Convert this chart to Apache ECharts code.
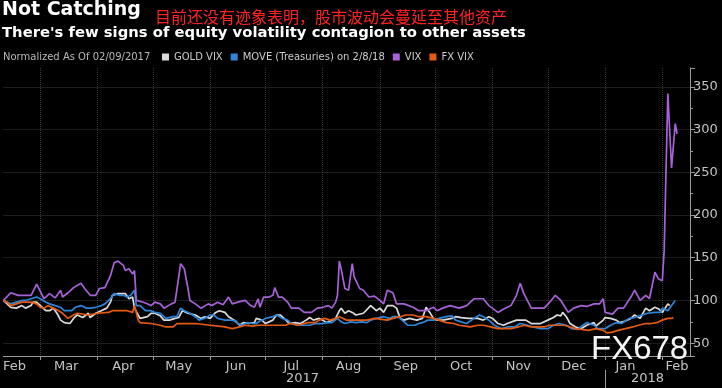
<!DOCTYPE html>
<html><head><meta charset="utf-8">
<script src="https://cdn.jsdelivr.net/npm/echarts@6/dist/echarts.min.js"></script>
<style>html,body{margin:0;padding:0;background:#000;}#c{width:722px;height:388px;}</style>
</head><body><div id="c"></div>
<script>
const axisStart = '2017-02-09';
const axisEnd = '2018-02-16';
const monthLabelDates = ['2017-02-15','2017-03-15','2017-04-15','2017-05-15','2017-06-15','2017-07-15','2017-08-15','2017-09-15','2017-10-15','2017-11-15','2017-12-15','2018-01-12','2018-02-09'];
const yearLabelDates = ['2017-07-21','2018-01-24'];
const monthNames = ['Jan','Feb','Mar','Apr','May','Jun','Jul','Aug','Sep','Oct','Nov','Dec'];

const vixDates = ['2017-02-09','2017-02-13','2017-02-17','2017-02-24','2017-02-27','2017-03-03','2017-03-06','2017-03-09','2017-03-12','2017-03-13','2017-03-16','2017-03-19','2017-03-23','2017-03-25','2017-03-28','2017-03-31','2017-04-02','2017-04-05','2017-04-08','2017-04-10','2017-04-12','2017-04-15','2017-04-16','2017-04-18','2017-04-20','2017-04-21','2017-04-22','2017-04-24','2017-04-27','2017-04-30','2017-05-02','2017-05-05','2017-05-07','2017-05-11','2017-05-13','2017-05-16','2017-05-18','2017-05-20','2017-05-21','2017-05-24','2017-05-27','2017-05-31','2017-06-02','2017-06-05','2017-06-08','2017-06-11','2017-06-13','2017-06-16','2017-06-20','2017-06-23','2017-06-25','2017-06-27','2017-06-28','2017-06-30','2017-07-03','2017-07-05','2017-07-06','2017-07-08','2017-07-10','2017-07-13','2017-07-15','2017-07-19','2017-07-22','2017-07-26','2017-07-29','2017-08-01','2017-08-04','2017-08-06','2017-08-08','2017-08-09','2017-08-10','2017-08-11','2017-08-13','2017-08-15','2017-08-16','2017-08-17','2017-08-18','2017-08-21','2017-08-23','2017-08-26','2017-08-29','2017-09-01','2017-09-03','2017-09-05','2017-09-08','2017-09-10','2017-09-14','2017-09-19','2017-09-22','2017-09-26','2017-09-30','2017-10-02','2017-10-05','2017-10-09','2017-10-14','2017-10-18','2017-10-22','2017-10-27','2017-10-30','2017-11-04','2017-11-07','2017-11-11','2017-11-14','2017-11-16','2017-11-18','2017-11-22','2017-11-29','2017-12-02','2017-12-05','2017-12-08','2017-12-12','2017-12-15','2017-12-19','2017-12-22','2017-12-26','2017-12-29','2017-12-31','2018-01-01','2018-01-05','2018-01-08','2018-01-11','2018-01-15','2018-01-17','2018-01-20','2018-01-23','2018-01-25','2018-01-26','2018-01-28','2018-01-30','2018-02-01','2018-02-02','2018-02-04','2018-02-06','2018-02-08','2018-02-09'];
const vixVals = [100,109,106,106,119,102,108,103,112,104,109,115,120,114,106,106,114,115,129,144,146,141,135,137,131,135,100,99,97,94,98,96,91,96,98,143,137,114,100,96,91,96,94,98,95,104,96,98,100,94,92,102,92,104,104,106,115,104,104,98,91,91,86,86,91,92,94,91,98,106,146,137,114,112,112,143,128,114,112,104,105,100,96,112,109,96,96,92,88,88,92,88,91,94,91,94,102,102,94,86,90,94,106,120,108,91,91,98,106,100,86,91,94,93,96,96,102,86,84,91,91,104,112,100,106,102,104,133,125,123,158,342,255,307,295];

const goldDates = ['2017-02-09','2017-02-11','2017-02-13','2017-02-16','2017-02-19','2017-02-21','2017-02-24','2017-02-25','2017-02-27','2017-03-01','2017-03-04','2017-03-06','2017-03-08','2017-03-10','2017-03-12','2017-03-14','2017-03-17','2017-03-19','2017-03-21','2017-03-24','2017-03-27','2017-03-28','2017-03-31','2017-04-03','2017-04-06','2017-04-08','2017-04-09','2017-04-12','2017-04-16','2017-04-18','2017-04-20','2017-04-21','2017-04-23','2017-04-24','2017-04-28','2017-04-30','2017-05-02','2017-05-05','2017-05-07','2017-05-10','2017-05-13','2017-05-15','2017-05-17','2017-05-20','2017-05-24','2017-05-27','2017-05-29','2017-06-01','2017-06-04','2017-06-06','2017-06-09','2017-06-11','2017-06-14','2017-06-17','2017-06-19','2017-06-22','2017-06-25','2017-06-26','2017-06-29','2017-07-01','2017-07-05','2017-07-07','2017-07-09','2017-07-12','2017-07-14','2017-07-17','2017-07-20','2017-07-23','2017-07-25','2017-07-27','2017-07-30','2017-08-01','2017-08-03','2017-08-06','2017-08-08','2017-08-10','2017-08-11','2017-08-13','2017-08-15','2017-08-17','2017-08-19','2017-08-23','2017-08-27','2017-08-30','2017-09-01','2017-09-03','2017-09-05','2017-09-06','2017-09-08','2017-09-10','2017-09-12','2017-09-14','2017-09-17','2017-09-21','2017-09-24','2017-09-26','2017-09-28','2017-09-30','2017-10-02','2017-10-05','2017-10-10','2017-10-12','2017-10-15','2017-10-19','2017-10-20','2017-10-24','2017-10-27','2017-10-30','2017-11-01','2017-11-04','2017-11-07','2017-11-09','2017-11-14','2017-11-16','2017-11-19','2017-11-22','2017-11-27','2017-12-01','2017-12-04','2017-12-05','2017-12-06','2017-12-08','2017-12-09','2017-12-11','2017-12-13','2017-12-16','2017-12-19','2017-12-22','2017-12-26','2017-12-27','2017-12-31','2018-01-01','2018-01-04','2018-01-07','2018-01-09','2018-01-12','2018-01-15','2018-01-17','2018-01-20','2018-01-23','2018-01-25','2018-01-28','2018-01-30','2018-02-01','2018-02-04','2018-02-05'];
const goldVals = [100,96,92,91,94,91,94,98,98,94,88,88,91,85,77,74,73,79,83,80,85,80,85,88,91,98,106,108,108,102,104,91,83,79,81,85,85,82,77,77,79,80,88,85,83,79,81,79,86,88,86,81,77,71,74,73,74,79,77,73,77,83,83,77,73,74,73,77,80,77,79,77,74,77,79,88,91,85,88,86,83,85,94,88,91,86,94,96,94,91,79,77,79,77,79,92,86,79,77,77,79,81,80,79,81,79,77,81,79,73,71,73,77,77,77,73,73,77,80,79,83,82,86,81,73,69,67,71,74,70,77,80,79,77,74,76,79,83,79,91,88,92,90,86,96,94];

const moveDates = ['2017-02-09','2017-02-13','2017-02-16','2017-02-19','2017-02-21','2017-02-24','2017-02-27','2017-03-01','2017-03-04','2017-03-06','2017-03-09','2017-03-12','2017-03-14','2017-03-18','2017-03-20','2017-03-23','2017-03-26','2017-03-28','2017-03-31','2017-04-03','2017-04-05','2017-04-08','2017-04-10','2017-04-13','2017-04-15','2017-04-17','2017-04-19','2017-04-21','2017-04-22','2017-04-24','2017-04-27','2017-04-30','2017-05-02','2017-05-05','2017-05-08','2017-05-12','2017-05-14','2017-05-16','2017-05-18','2017-05-21','2017-05-24','2017-05-26','2017-05-29','2017-06-01','2017-06-03','2017-06-05','2017-06-09','2017-06-12','2017-06-15','2017-06-16','2017-06-18','2017-06-21','2017-06-24','2017-06-26','2017-06-28','2017-07-01','2017-07-05','2017-07-07','2017-07-10','2017-07-13','2017-07-15','2017-07-18','2017-07-21','2017-07-22','2017-07-25','2017-07-28','2017-08-01','2017-08-03','2017-08-06','2017-08-09','2017-08-11','2017-08-13','2017-08-16','2017-08-19','2017-08-22','2017-08-25','2017-08-27','2017-08-30','2017-09-03','2017-09-06','2017-09-08','2017-09-11','2017-09-13','2017-09-16','2017-09-20','2017-09-22','2017-09-24','2017-09-27','2017-09-30','2017-10-03','2017-10-07','2017-10-10','2017-10-12','2017-10-15','2017-10-18','2017-10-22','2017-10-25','2017-10-27','2017-10-30','2017-11-02','2017-11-06','2017-11-09','2017-11-13','2017-11-16','2017-11-20','2017-11-23','2017-11-27','2017-12-01','2017-12-04','2017-12-07','2017-12-11','2017-12-14','2017-12-17','2017-12-20','2017-12-22','2017-12-26','2017-12-28','2018-01-01','2018-01-04','2018-01-07','2018-01-10','2018-01-14','2018-01-17','2018-01-21','2018-01-24','2018-01-28','2018-01-31','2018-02-01','2018-02-04','2018-02-06','2018-02-08'];
const moveVals = [100,96,98,100,100,102,104,102,98,96,94,92,88,88,92,94,91,91,92,94,96,102,108,106,106,104,106,112,94,94,88,88,86,85,79,81,81,91,88,85,81,77,79,83,83,79,77,77,76,73,71,74,73,73,76,79,81,83,79,77,73,71,71,73,71,73,73,74,74,79,75,73,75,74,75,74,77,79,81,79,81,81,77,71,71,73,74,77,77,79,81,82,77,75,73,79,83,81,77,71,67,69,69,73,71,69,67,67,71,73,71,67,66,71,74,71,67,67,71,74,73,79,80,83,85,86,86,91,88,94,100];

const fxDates = ['2017-02-09','2017-02-11','2017-02-13','2017-02-16','2017-02-19','2017-02-24','2017-02-27','2017-03-01','2017-03-03','2017-03-05','2017-03-08','2017-03-11','2017-03-13','2017-03-16','2017-03-19','2017-03-21','2017-03-27','2017-04-01','2017-04-07','2017-04-09','2017-04-17','2017-04-20','2017-04-21','2017-04-23','2017-04-24','2017-04-30','2017-05-05','2017-05-08','2017-05-12','2017-05-14','2017-05-24','2017-06-01','2017-06-09','2017-06-13','2017-06-17','2017-06-20','2017-06-24','2017-06-27','2017-07-05','2017-07-12','2017-07-14','2017-07-19','2017-07-22','2017-07-24','2017-07-28','2017-07-30','2017-08-02','2017-08-05','2017-08-08','2017-08-10','2017-08-14','2017-08-25','2017-08-29','2017-09-05','2017-09-08','2017-09-12','2017-09-15','2017-09-19','2017-09-22','2017-09-26','2017-09-30','2017-10-03','2017-10-07','2017-10-11','2017-10-14','2017-10-20','2017-10-24','2017-10-27','2017-10-31','2017-11-04','2017-11-11','2017-11-15','2017-11-18','2017-11-22','2017-11-29','2017-12-02','2017-12-10','2017-12-13','2017-12-16','2017-12-23','2017-12-27','2017-12-31','2018-01-02','2018-01-05','2018-01-08','2018-01-12','2018-01-16','2018-01-19','2018-01-23','2018-01-26','2018-01-29','2018-02-01','2018-02-04','2018-02-05','2018-02-06','2018-02-07'];
const fxVals = [100,98,94,96,98,98,96,92,91,94,91,88,85,79,83,85,83,85,86,88,88,86,94,77,74,73,71,69,69,73,73,71,69,67,69,71,70,71,71,71,73,71,73,74,74,77,79,77,79,81,77,77,79,77,79,81,83,83,81,81,79,77,74,73,71,69,71,71,69,67,67,69,71,69,69,71,71,69,67,65,67,65,62,63,65,67,69,71,73,73,74,77,79,81,79,80];

function dayRange(a, b) {
  const out = [];
  let t = Date.parse(a + 'T00:00:00Z');
  const e = Date.parse(b + 'T00:00:00Z');
  while (t <= e) { out.push(new Date(t).toISOString().slice(0, 10)); t += 86400000; }
  return out;
}
const days = dayRange(axisStart, axisEnd);
const pairs = (d, v) => d.map((x, i) => [x, v[i]]);

const chart = echarts.init(document.getElementById('c'), null, {renderer: 'canvas'});
const gridColor = '#3a3a3a';
const axisColor = '#9a9a9a';
const labelColor = '#c4c4c4';
const font = 'DejaVu Sans';
function lineSeries(name, d, v, color, z) {
  return {name, type: 'line', xAxisIndex: 0, yAxisIndex: 0, data: pairs(d, v), showSymbol: false, symbol: 'none',
    lineStyle: {color, width: 1.7}, itemStyle: {color}, z, animation: false};
}
chart.setOption({
  backgroundColor: '#000',
  animation: false,
  title: [
    {text: 'Not Catching', left: 2, top: 1, padding: 0, textStyle: {color: '#fff', fontFamily: font, fontWeight: 'bold', fontSize: 19}},
    {text: '目前还没有迹象表明，股市波动会蔓延至其他资产', left: 155, top: 9, padding: 0, textStyle: {color: '#ff2222', fontFamily: 'Noto Sans CJK SC', fontWeight: 'normal', fontSize: 16}},
    {text: "There's few signs of equity volatility contagion to other assets", left: 2, top: 26, padding: 0, textStyle: {color: '#fff', fontFamily: font, fontWeight: 'bold', fontSize: 14.8}},
    {text: 'Normalized As Of 02/09/2017', left: 3, top: 52, padding: 0, textStyle: {color: '#b8b8b8', fontFamily: font, fontWeight: 'normal', fontSize: 10}},
    {text: 'FX678', left: 591, top: 333, padding: 0, z: 20, textStyle: {color: '#f4f4f4', fontFamily: 'Liberation Sans', fontWeight: 'normal', fontSize: 33}}
  ],
  legend: {
    left: 162, top: 52, padding: 0, itemWidth: 7, itemHeight: 7, itemGap: 8, icon: 'rect',
    data: ['GOLD VIX', 'MOVE (Treasuries) on 2/8/18', 'VIX', 'FX VIX'],
    textStyle: {color: '#cccccc', fontFamily: font, fontSize: 10}
  },
  grid: {left: 0, right: 32, top: 68, bottom: 32, containLabel: false},
  xAxis: [
    {type: 'category', data: days, boundaryGap: false, position: 'bottom',
      axisLine: {show: true, lineStyle: {color: axisColor, width: 1}},
      axisTick: {show: true, length: 4, interval: (i, v) => v.slice(8) === '01', lineStyle: {color: axisColor}},
      splitLine: {show: true, interval: (i, v) => v.slice(8) === '01', lineStyle: {color: gridColor, type: 'dotted', width: 1}},
      axisLabel: {show: true, interval: (i, v) => monthLabelDates.indexOf(v) >= 0, formatter: v => monthNames[parseInt(v.slice(5, 7), 10) - 1],
        color: labelColor, fontFamily: font, fontSize: 13, margin: 4}
    },
    {type: 'category', data: days, boundaryGap: false, position: 'bottom', offset: 14,
      axisLine: {show: false},
      axisTick: {show: true, length: 20, interval: (i, v) => v === '2018-01-01', lineStyle: {color: axisColor}},
      splitLine: {show: false},
      axisLabel: {show: true, interval: (i, v) => yearLabelDates.indexOf(v) >= 0, formatter: v => v.slice(0, 4),
        color: labelColor, fontFamily: font, fontSize: 13, margin: 2}
    }
  ],
  yAxis: {
    type: 'value', position: 'right', min: 35, max: 372, scale: true,
    axisLine: {show: true, lineStyle: {color: axisColor, width: 1}},
    axisTick: {show: true, length: 5, lineStyle: {color: axisColor}},
    minorTick: {show: true, splitNumber: 2, length: 3, lineStyle: {color: axisColor}},
    splitLine: {show: true, showMinLine: false, showMaxLine: false, lineStyle: {color: gridColor, type: 'dotted', width: 1}},
    axisLabel: {show: true, showMinLabel: false, showMaxLabel: false, color: labelColor, fontFamily: font, fontSize: 13, margin: 3}
  },
  series: [
    lineSeries('GOLD VIX', goldDates, goldVals, '#dcdcdc', 2),
    lineSeries('MOVE (Treasuries) on 2/8/18', moveDates, moveVals, '#2d86da', 3),
    lineSeries('VIX', vixDates, vixVals, '#a862d8', 4),
    lineSeries('FX VIX', fxDates, fxVals, '#e65a12', 5)
  ]
});
</script></body></html>
